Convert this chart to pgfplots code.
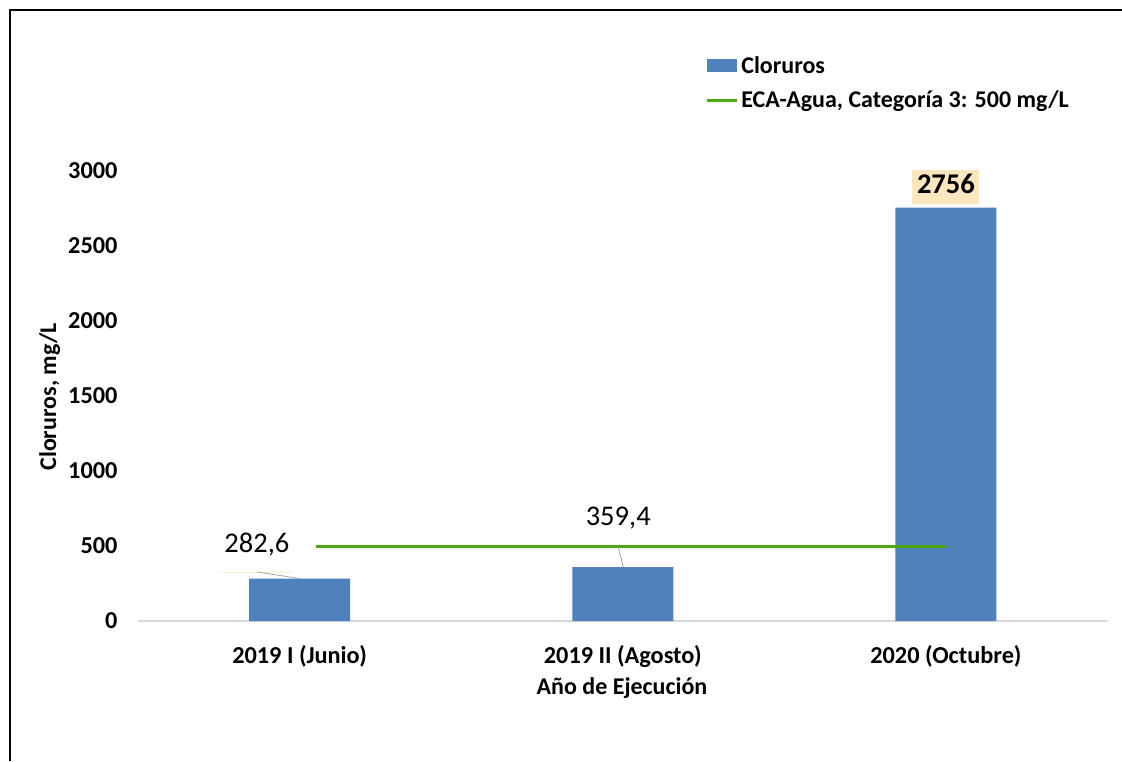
\documentclass[border=0pt]{standalone}
\usepackage{pgfplots}
\pgfplotsset{compat=1.18}
\usepackage{fontspec}
\setmainfont{Carlito}
\definecolor{barblue}{RGB}{79,129,189}
\definecolor{ecagreen}{RGB}{76,168,18}
\definecolor{lblbg}{RGB}{253,229,190}
\begin{document}
\begin{tikzpicture}[x=1pt,y=1pt]
\path[use as bounding box] (0,0) rectangle (1122,761);
\draw[line width=2.5pt, black] (10,0) -- (10,751) -- (1122,751);
\begin{axis}[
  at={(138pt,140pt)}, anchor=south west,
  scale only axis, width=969.5pt, height=450pt,
  xmin=-0.5, xmax=2.5, ymin=0, ymax=3000,
  xtick={0,1,2},
  xticklabels={2019 I (Junio), 2019 II (Agosto), 2020 (Octubre)},
  ytick={0,500,1000,1500,2000,2500,3000},
  axis line style={draw=none},
  major tick length=0pt,
  tick style={draw=none},
  scaled y ticks=false,
  /pgf/number format/1000 sep={},
  /pgf/number format/assume math mode=true,
  tick label style={font=\fontsize{24.3}{29}\selectfont\bfseries},
  yticklabel style={xshift=-17pt},
  xticklabel style={yshift=-21pt},
  xlabel={Año de Ejecución},
  ylabel={Cloruros, mg/L},
  label style={font=\fontsize{24}{29}\selectfont\bfseries},
  xlabel style={at={(axis description cs:0.4992,-0.149)}, anchor=center},
  ylabel style={at={(axis description cs:-0.091,0.498)}, anchor=center},
  legend cell align=left,
  legend style={at={(axis description cs:0.585,1.257)}, anchor=north west,
    draw=none, fill=none, inner sep=0pt, row sep=14pt,
    font=\fontsize{24}{29}\selectfont\bfseries,
    nodes={inner xsep=3pt, inner ysep=1pt}},
]
\draw[black!15, line width=1.5pt] (axis cs:-0.5,0) -- (axis cs:2.5,0);
\addplot[ybar, bar width=101pt, bar shift=0pt, fill=barblue, draw=none,
  legend image code/.code={\fill[barblue] (0pt,-6.5pt) rectangle (30pt,6.5pt);}]
  coordinates {(0,282.6) (1,359.4) (2,2756)};
\addplot[ecagreen, line width=3pt, sharp plot, mark=none,
  legend image code/.code={\draw[ecagreen, line width=3pt] (0pt,0pt) -- (30pt,0pt);}]
  coordinates {(0.05,500) (2,500)};
\legend{Cloruros, {ECA-Agua, Categoría 3: 500 mg/L}}
% data labels
\draw[lblbg!70, line width=0.8pt] (axis cs:-0.252,327) -- (axis cs:-0.02,327);
\draw[black!35, line width=0.8pt] (axis cs:-0.1316,327) -- (axis cs:0.0015,282.6);
\node[font=\fontsize{28.5}{32}\selectfont, inner sep=0pt] at (axis cs:-0.132,510) {282,6};
\draw[black!35, line width=0.8pt] (axis cs:0.986,493) -- (axis cs:1.0015,359.4);
\node[font=\fontsize{28.5}{32}\selectfont, inner sep=0pt] at (axis cs:0.986,685) {359,4};
\node[font=\fontsize{28.5}{32}\selectfont\bfseries, fill=lblbg, minimum width=67pt,
  minimum height=39pt, inner sep=0pt] at (axis cs:2.0,2913) {2756};
\end{axis}
\end{tikzpicture}
\end{document}
